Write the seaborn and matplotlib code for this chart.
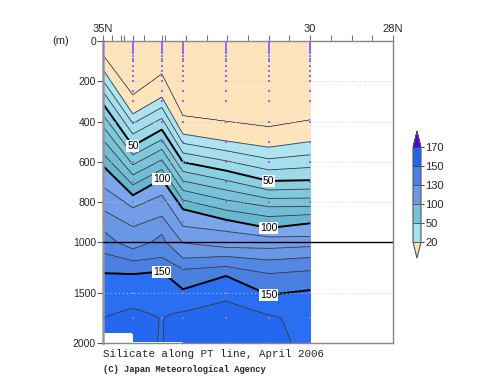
import numpy as np
import pandas as pd
import matplotlib
matplotlib.use('Agg')
import matplotlib.pyplot as plt
import seaborn as sns
from matplotlib.colors import ListedColormap, BoundaryNorm
from matplotlib.cm import ScalarMappable

sns.set_style('white')
plt.rcParams['font.family'] = ['Liberation Sans', 'DejaVu Sans']

# station latitudes (deg N) and deepest good sample (m)
station_lat = [35.0, 34.28, 33.58, 33.07, 32.03, 31.0, 30.0]
deepest_sample = [1900, 1985, 1985, 2000, 2000, 2000, 2000]

# silicate at the surface and depth (m) of each isoline, read from the section
surface_val = [4, 4, 4, 4, 4, 4, 4]
iso_10 = [70, 268, 164, 372, 400, 427, 393]
iso_20 = [142, 363, 279, 463, 497, 528, 500]
iso_30 = [196, 410, 330, 508, 545, 585, 565]
iso_40 = [251, 462, 384, 556, 595, 640, 628]
iso_50 = [312, 521, 440, 602, 644, 695, 692]
iso_60 = [367, 566, 490, 648, 692, 740, 735]
iso_70 = [425, 615, 538, 695, 740, 782, 780]
iso_80 = [491, 665, 590, 742, 790, 823, 822]
iso_90 = [560, 715, 638, 790, 840, 872, 862]
iso_100 = [620, 766, 685, 835, 888, 929, 905]
iso_110 = [725, 828, 765, 920, 945, 972, 971]
iso_120 = [840, 922, 870, 1005, 1050, 1060, 1042]
iso_130 = [940, 1065, 960, 1157, 1140, 1175, 1151]
iso_140 = [1105, 1185, 1150, 1267, 1240, 1310, 1281]
iso_150 = [1305, 1315, 1290, 1466, 1333, 1522, 1473]
# deep values
val_1750 = [159.9, 162.8, 159.7, 162.7, 166.7, 161.5, 156.5]
val_2000 = [161.0, 161.0, 159.8, 163.0, 165.0, 163.0, 157.5]

sample_depths = [0, 10, 20, 30, 40, 50, 60, 75, 90, 100, 125, 150, 175, 200, 250,
                 300, 400, 500, 600, 700, 800, 900, 1000, 1250, 1500, 1750, 2000]

iso_levels = [10, 20, 30, 40, 50, 60, 70, 80, 90, 100, 110, 120, 130, 140, 150]
iso_depths = [iso_10, iso_20, iso_30, iso_40, iso_50, iso_60, iso_70, iso_80,
              iso_90, iso_100, iso_110, iso_120, iso_130, iso_140, iso_150]

fill_levels = [-10, 10, 20, 30, 40, 50, 60, 70, 80, 90, 100, 110, 120, 130,
               140, 150, 160, 170, 250]
fill_colors = ['#FEE4BD', '#FEE4BD', '#AEE4F2', '#A5DFEF', '#9CD9EB', '#8BD0E2',
               '#80C9DD', '#78C3D9', '#70BDD5', '#68B7D1', '#7BA5EC', '#729DE9',
               '#6A96E6', '#5287E3', '#4A80E0', '#2A6EF2', '#2468F0', '#5A0AE0']

cbar_bounds = [20, 50, 100, 130, 150, 170]
cbar_colors = ['#A6E0EF', '#74C3D9', '#6E98E6', '#4A80E0', '#1E66F2']

# grid the section: isolines run straight between stations
lat_r = np.array(station_lat[::-1])
grid_lat = np.linspace(30.0, 35.0, 401)
z = np.arange(0, 2001, 5)
field = np.full((len(z), len(grid_lat)), np.nan)
iso_grid = [np.interp(grid_lat, lat_r, np.array(d)[::-1]) for d in iso_depths]
surf_grid = np.interp(grid_lat, lat_r, np.array(surface_val)[::-1])
v1750_grid = np.interp(grid_lat, lat_r, np.array(val_1750)[::-1])
v2000_grid = np.interp(grid_lat, lat_r, np.array(val_2000)[::-1])
deep_r = np.array(deepest_sample[::-1])
for j, la in enumerate(grid_lat):
    k = min(np.searchsorted(lat_r, la, side='right') - 1, len(lat_r) - 2)
    bottom = min(deep_r[k], deep_r[k + 1])
    d = [0] + [g[j] for g in iso_grid] + [1750, 2000]
    v = [surf_grid[j]] + iso_levels + [v1750_grid[j], v2000_grid[j]]
    col = np.interp(z, d, v)
    col[z > bottom] = np.nan
    field[:, j] = col
field = np.ma.masked_invalid(field)


def fwd(d):
    d = np.asarray(d, dtype=float)
    return np.where(d <= 1000, d, 1000 + (d - 1000) / 2)


def inv(t):
    t = np.asarray(t, dtype=float)
    return np.where(t <= 1000, t, 1000 + (t - 1000) * 2)


fig = plt.figure(figsize=(5, 3.87), dpi=100)
ax = fig.add_axes([0.206, 0.1137, 0.58, 0.7803])
ax.set_yscale('function', functions=(fwd, inv))

ax.contourf(grid_lat, z, field, levels=fill_levels, colors=fill_colors, zorder=1)
thin_levels = [l for l in range(10, 170, 10) if l % 50]
ax.contour(grid_lat, z, field, levels=thin_levels, colors='#3a3a3a',
           linewidths=0.6, zorder=2)
thick = ax.contour(grid_lat, z, field, levels=[50, 100, 150], colors='black',
                   linewidths=1.4, zorder=2)

# faint dotted depth grid and the 1000 m break line
for d in [200, 400, 600, 800, 1500]:
    ax.axhline(d, color='#c8c8c8', ls=(0, (1, 3)), lw=0.7, zorder=3)
ax.axhline(1000, color='black', lw=1.0, zorder=5)

# sample positions
samples = pd.DataFrame([(lat, d) for lat, deep in zip(station_lat, deepest_sample)
                        for d in sample_depths if d <= deep],
                       columns=['lat', 'depth'])
sns.scatterplot(data=samples, x='lat', y='depth', ax=ax, color='#8a6cff', s=2,
                marker='s', linewidth=0, zorder=4)

labels = ax.clabel(thick, fmt='%d', inline=False, fontsize=7.5,
                   manual=[(34.28, 521), (33.58, 685), (31.0, 695), (31.0, 929),
                           (33.58, 1290), (31.0, 1522)])
for t in labels:
    t.set_rotation(0)
    t.set_bbox(dict(facecolor='white', edgecolor='none', pad=0.6))
    t.set_zorder(6)

ax.set_xlim(35, 28)
ax.set_ylim(2000, 0)
ax.set_xlabel('')
ax.set_ylabel('')

ax.xaxis.tick_top()
ax.set_xticks([35, 30, 28])
ax.set_xticklabels(['35N', '30', '28N'], fontsize=8)
ax.set_xticks([34.78, 34.57, 34.5, 34.28, 34.0, 33.58, 33.5, 33.0, 32.5, 32.0,
               31.5, 31.0, 30.5, 29.5, 29.0, 28.5], minor=True)
ax.tick_params(axis='x', which='both', direction='out', top=True, bottom=False,
               color='#777777', length=4, width=0.8, pad=1)
ax.set_yticks([0, 200, 400, 600, 800, 1000, 1500, 2000])
ax.set_yticklabels(['0', '200', '400', '600', '800', '1000', '1500', '2000'],
                   fontsize=7.5)
ax.yaxis.set_minor_locator(matplotlib.ticker.NullLocator())
ax.tick_params(axis='y', which='both', direction='out', left=True, length=4,
               width=0.8, color='#555555', pad=1)

for side in ['top', 'right', 'bottom']:
    ax.spines[side].set_color('#888888')
    ax.spines[side].set_linewidth(1.0)
ax.spines['left'].set_color('#999999')
ax.spines['left'].set_linewidth(1.8)

fig.text(0.104, 0.894, '(m)', fontsize=8, va='center', ha='left')

# colorbar
cmap = ListedColormap(cbar_colors).with_extremes(under='#FDE3BC', over='#5000E0')
norm = BoundaryNorm(cbar_bounds, len(cbar_colors))
cax = fig.add_axes([0.826, 0.333, 0.016, 0.328])
cb = fig.colorbar(ScalarMappable(norm=norm, cmap=cmap), cax=cax, extend='both',
                  extendfrac=0.17, drawedges=True, ticks=cbar_bounds)
cb.outline.set_edgecolor('#555555')
cb.outline.set_linewidth(0.8)
cb.dividers.set_color('#444444')
cb.dividers.set_linewidth(0.6)
cax.tick_params(labelsize=8, length=2, width=0.6, pad=1)

fig.text(0.206, 0.0775, 'Silicate along PT line, April 2006', fontsize=7.8,
         family=['Liberation Mono', 'DejaVu Sans Mono'], va='baseline', ha='left')
fig.text(0.206, 0.0388, '(C) Japan Meteorological Agency', fontsize=6.3,
         family=['Liberation Mono', 'DejaVu Sans Mono'], weight='bold',
         va='baseline', ha='left')

fig.savefig('out.png', dpi=100)
